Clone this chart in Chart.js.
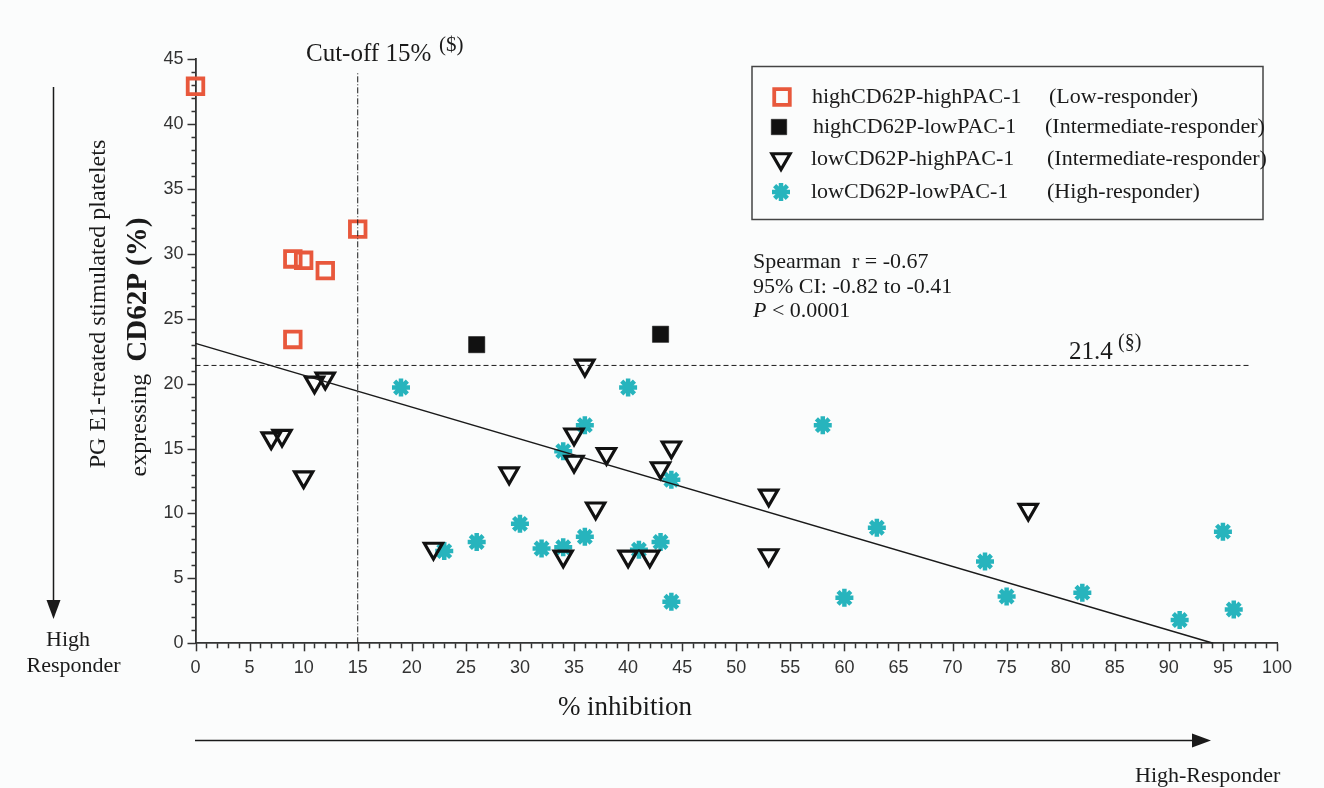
<!DOCTYPE html>
<html>
<head>
<meta charset="utf-8">
<script src="https://cdn.jsdelivr.net/npm/chart.js@4/dist/chart.umd.min.js"></script>
<style>
  html, body { margin: 0; padding: 0; background: #fbfcfc; }
  #chart { display: block; }
</style>
</head>
<body>
<canvas id="chart" width="1324" height="788"></canvas>
<script>
// values (% inhibition vs % CD62P)
const lowRespX = [0, 15, 9, 10, 12, 9];
const lowRespY = [42.9, 31.9, 29.6, 29.5, 28.7, 23.4];

const interSqX = [26, 43];
const interSqY = [23.0, 23.8];

const interTriX = [11, 12, 7, 8, 10, 22, 29, 34, 35, 35, 36, 38, 37, 44, 43, 53, 53, 40, 42, 77];
const interTriY = [20.1, 20.4, 15.8, 16.0, 12.8, 7.3, 13.1, 6.7, 16.1, 14.0, 21.4, 14.6, 10.4, 15.1, 13.5, 11.4, 6.8, 6.7, 6.7, 10.3];

const highRespX = [19, 23, 26, 30, 32, 34, 34, 36, 36, 40, 41, 43, 44, 44, 58, 60, 63, 73, 75, 82, 91, 95, 96];
const highRespY = [19.7, 7.1, 7.8, 9.2, 7.3, 7.4, 14.8, 16.8, 8.2, 19.7, 7.2, 7.8, 12.6, 3.2, 16.8, 3.5, 8.9, 6.3, 3.6, 3.9, 1.8, 8.6, 2.6];

// regression line end points, cut-off lines
const fitX = [0, 94.1];
const fitY = [23.1, 0];
const cutoffX = 15;
const cutoffTop = 43.9;
const cutoffY = 21.4;
const cutoffRight = 97.5;

const legendNames = ['highCD62P-highPAC-1', 'highCD62P-lowPAC-1', 'lowCD62P-highPAC-1', 'lowCD62P-lowPAC-1'];
const legendGroups = ['(Low-responder)', '(Intermediate-responder)', '(Intermediate-responder)', '(High-responder)'];

const orange = '#e8583c';
const teal = '#27b4bd';
const ink = '#1a1a1a';
const serif = '"Liberation Serif", "Times New Roman", serif';

function pts(xs, ys) {
  return xs.map((x, i) => ({ x: x, y: ys[i] }));
}

// marker styles, shared by datasets and the hand-drawn legend
const markers = [
  { pointStyle: 'rect', radius: 11, borderWidth: 3.8, bg: 'rgba(0,0,0,0)', border: orange, rotation: 0 },
  { pointStyle: 'rect', radius: 11.5, borderWidth: 0.5, bg: '#111', border: '#111', rotation: 0 },
  { pointStyle: 'triangle', radius: 10.5, borderWidth: 3.2, bg: 'rgba(0,0,0,0)', border: '#111', rotation: 180 },
  { pointStyle: 'star', radius: 9, borderWidth: 4.5, bg: teal, border: teal, rotation: 0 }
];

function scatterSet(label, data, m) {
  return {
    type: 'scatter',
    label: label,
    data: data,
    pointStyle: m.pointStyle,
    pointRadius: m.radius,
    pointHoverRadius: m.radius,
    pointBorderWidth: m.borderWidth,
    pointBackgroundColor: m.bg,
    pointBorderColor: m.border,
    pointRotation: m.rotation,
    clip: false
  };
}

function lineSet(data, dash, width) {
  return {
    type: 'line',
    data: data,
    borderColor: ink,
    borderWidth: width,
    borderDash: dash,
    pointRadius: 0,
    fill: false,
    clip: false
  };
}

// tick marks (major every 5, minor every 1), annotations, arrows, legend
const decorations = {
  id: 'decorations',
  afterDraw(chart) {
    const ctx = chart.ctx;
    const xs = chart.scales.x;
    const ys = chart.scales.y;
    const area = chart.chartArea;
    ctx.save();

    ctx.strokeStyle = '#333';
    ctx.lineWidth = 1.5;
    for (let v = 0; v <= 100; v++) {
      const px = Math.round(xs.getPixelForValue(v)) + 0.5;
      const len = v % 5 === 0 ? 8 : 5;
      ctx.beginPath();
      ctx.moveTo(px, area.bottom);
      ctx.lineTo(px, area.bottom + len);
      ctx.stroke();
    }
    for (let v = 0; v <= 45; v++) {
      const py = Math.round(ys.getPixelForValue(v)) + 0.5;
      const len = v % 5 === 0 ? 8 : 4;
      ctx.beginPath();
      ctx.moveTo(area.left, py);
      ctx.lineTo(area.left - len, py);
      ctx.stroke();
    }

    ctx.fillStyle = ink;
    ctx.textBaseline = 'alphabetic';
    ctx.textAlign = 'left';

    // cut-off label
    ctx.font = '25px ' + serif;
    ctx.fillText('Cut-off 15%', 306, 61);
    ctx.font = '21px ' + serif;
    ctx.fillText('($)', 439, 51);

    // 21.4 label
    const y214 = ys.getPixelForValue(cutoffY);
    ctx.font = '25px ' + serif;
    ctx.fillText('21.4', 1069, y214 - 6);
    ctx.font = '20px ' + serif;
    ctx.fillText('(§)', 1118, y214 - 17);

    // statistics
    ctx.font = '22px ' + serif;
    ctx.fillText('Spearman  r = -0.67', 753, 268);
    ctx.fillText('95% CI: -0.82 to -0.41', 753, 293);
    ctx.font = 'italic 22px ' + serif;
    ctx.fillText('P', 753, 317);
    const pw = ctx.measureText('P').width;
    ctx.font = '22px ' + serif;
    ctx.fillText(' < 0.0001', 753 + pw, 317);

    // axis titles
    ctx.textAlign = 'center';
    ctx.font = '27px ' + serif;
    ctx.fillText('% inhibition', 625, 715);

    ctx.save();
    ctx.translate(105, 304);
    ctx.rotate(-Math.PI / 2);
    ctx.font = '24px ' + serif;
    ctx.fillText('PG E1-treated stimulated platelets', 0, 0);
    ctx.restore();

    ctx.save();
    ctx.translate(146, 347);
    ctx.rotate(-Math.PI / 2);
    ctx.textAlign = 'left';
    const partA = 'expressing  ';
    const partB = 'CD62P (%)';
    ctx.font = '24px ' + serif;
    const wa = ctx.measureText(partA).width;
    ctx.font = 'bold 29px ' + serif;
    const wb = ctx.measureText(partB).width;
    const start = -(wa + wb) / 2;
    ctx.font = '24px ' + serif;
    ctx.fillText(partA, start, 0);
    ctx.font = 'bold 29px ' + serif;
    ctx.fillText(partB, start + wa, 0);
    ctx.restore();

    // responder arrows
    ctx.strokeStyle = ink;
    ctx.fillStyle = ink;
    ctx.lineWidth = 1.5;
    ctx.beginPath();
    ctx.moveTo(53.5, 87);
    ctx.lineTo(53.5, 602);
    ctx.stroke();
    ctx.beginPath();
    ctx.moveTo(46.5, 600);
    ctx.lineTo(60.5, 600);
    ctx.lineTo(53.5, 619);
    ctx.closePath();
    ctx.fill();

    ctx.beginPath();
    ctx.moveTo(195, 740.5);
    ctx.lineTo(1195, 740.5);
    ctx.stroke();
    ctx.beginPath();
    ctx.moveTo(1192, 733.5);
    ctx.lineTo(1192, 747.5);
    ctx.lineTo(1211, 740.5);
    ctx.closePath();
    ctx.fill();

    ctx.font = '22px ' + serif;
    ctx.textAlign = 'center';
    ctx.fillText('High', 68, 646);
    ctx.fillText('Responder', 73.5, 672);
    ctx.textAlign = 'left';
    ctx.fillText('High-Responder', 1135, 782);

    // legend box
    ctx.strokeStyle = '#444';
    ctx.lineWidth = 1.5;
    ctx.strokeRect(752, 66.5, 511, 153);
    const rowY = [97, 127, 159, 192];
    const markX = [782, 779, 781, 781];
    const nameX = [812, 813, 811, 811];
    const groupX = [1049, 1045, 1047, 1047];
    const legendScale = [1, 0.95, 1, 1];
    ctx.font = '22px ' + serif;
    ctx.textBaseline = 'middle';
    for (let i = 0; i < 4; i++) {
      const m = markers[i];
      ctx.fillStyle = m.bg;
      ctx.strokeStyle = m.border;
      ctx.lineWidth = m.borderWidth;
      Chart.helpers.drawPoint(ctx, {
        pointStyle: m.pointStyle,
        radius: m.radius * legendScale[i],
        rotation: m.rotation,
        borderWidth: m.borderWidth
      }, markX[i], rowY[i]);
      ctx.fillStyle = ink;
      ctx.fillText(legendNames[i], nameX[i], rowY[i]);
      ctx.fillText(legendGroups[i], groupX[i], rowY[i]);
    }
    ctx.restore();
  }
};

const tickFont = { family: '"Liberation Sans", Arial, sans-serif' };

new Chart(document.getElementById('chart'), {
  type: 'scatter',
  data: {
    datasets: [
      lineSet(pts(fitX, fitY), [], 1.5),
      lineSet([{ x: 0, y: cutoffY }, { x: cutoffRight, y: cutoffY }], [5, 3], 1),
      lineSet([{ x: cutoffX, y: 0 }, { x: cutoffX, y: cutoffTop }], [6, 2, 1, 2], 1),
      scatterSet(legendNames[0], pts(lowRespX, lowRespY), markers[0]),
      scatterSet(legendNames[1], pts(interSqX, interSqY), markers[1]),
      scatterSet(legendNames[2], pts(interTriX, interTriY), markers[2]),
      scatterSet(legendNames[3], pts(highRespX, highRespY), markers[3])
    ]
  },
  options: {
    responsive: false,
    devicePixelRatio: 1,
    animation: false,
    layout: { padding: { left: 150, right: 47, top: 59, bottom: 100 } },
    plugins: {
      legend: { display: false },
      tooltip: { enabled: false }
    },
    scales: {
      x: {
        type: 'linear',
        min: 0,
        max: 100,
        afterFit(s) { s.height = 44.7; },
        ticks: {
          stepSize: 1,
          autoSkip: false,
          maxRotation: 0,
          padding: 14,
          color: '#333',
          font: Object.assign({ size: 18 }, tickFont),
          callback: v => (v % 5 === 0 ? v : '')
        },
        grid: { drawOnChartArea: false, drawTicks: false },
        border: { color: '#333', width: 1.8 }
      },
      y: {
        type: 'linear',
        min: 0,
        max: 45,
        afterFit(s) { s.width = 45.5; },
        ticks: {
          stepSize: 1,
          autoSkip: false,
          padding: 12,
          color: '#333',
          font: Object.assign({ size: 18 }, tickFont),
          callback: v => (v % 5 === 0 ? v : '')
        },
        grid: { drawOnChartArea: false, drawTicks: false },
        border: { color: '#333', width: 1.8 }
      }
    }
  },
  plugins: [decorations]
});
</script>
</body>
</html>
